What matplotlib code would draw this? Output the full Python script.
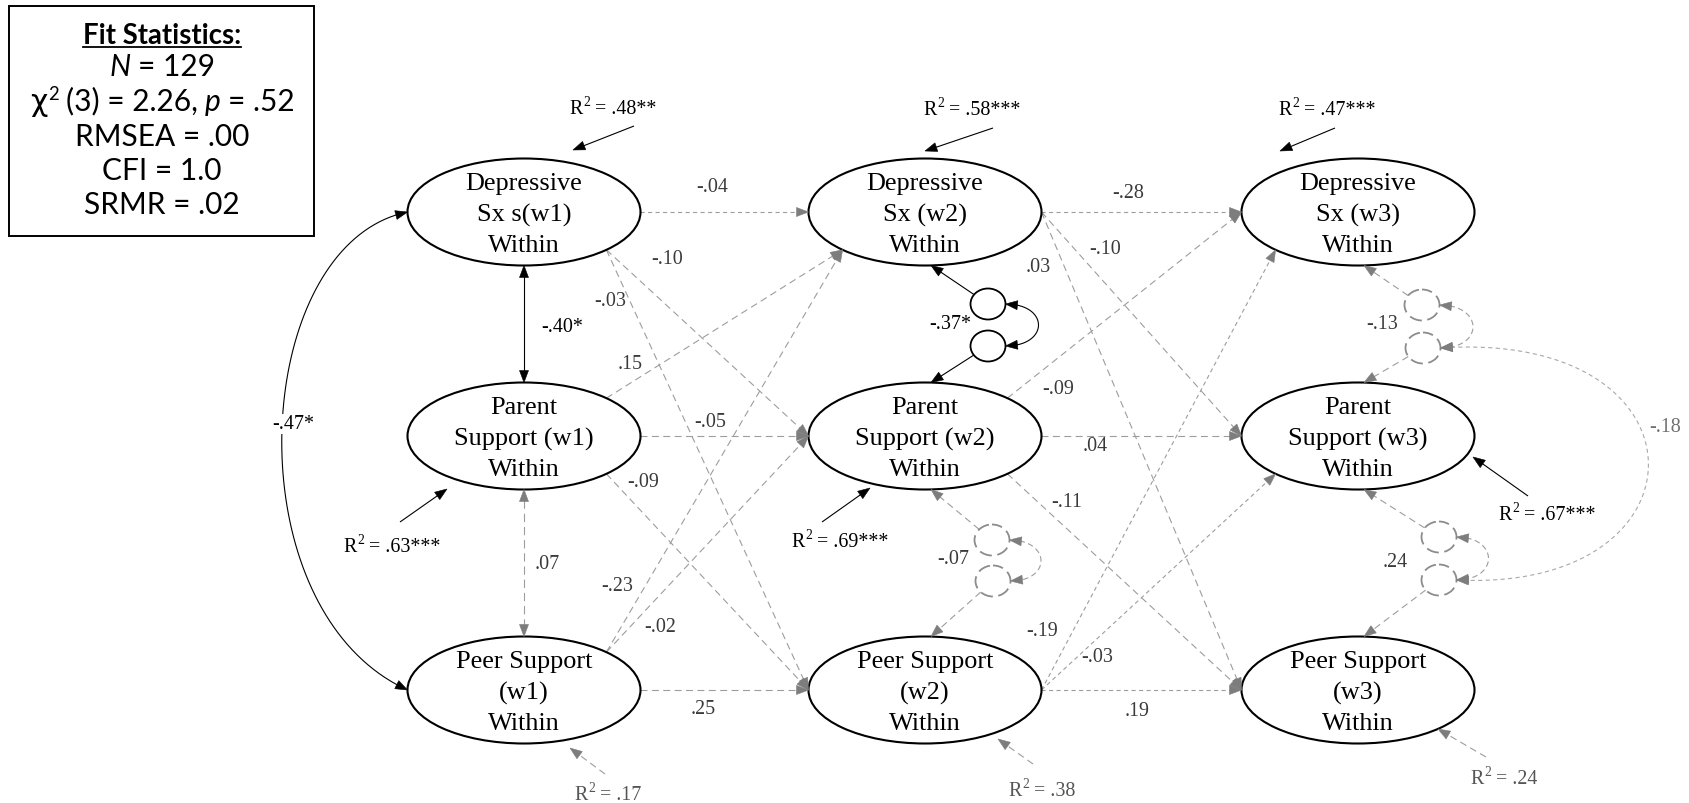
import numpy as np
import matplotlib
matplotlib.use("Agg")
import matplotlib.pyplot as plt
from matplotlib.patches import Ellipse, Polygon, Rectangle

plt.rcParams['lines.scale_dashes'] = False

# ------------------------------------------------------------------ data
node_ids = ['Dep1', 'Par1', 'Peer1', 'Dep2', 'Par2', 'Peer2', 'Dep3', 'Par3', 'Peer3']
node_labels = ['Depressive\nSx s(w1)\nWithin', 'Parent\nSupport (w1)\nWithin', 'Peer Support\n(w1)\nWithin',
               'Depressive\nSx (w2)\nWithin', 'Parent\nSupport (w2)\nWithin', 'Peer Support\n(w2)\nWithin',
               'Depressive\nSx (w3)\nWithin', 'Parent\nSupport (w3)\nWithin', 'Peer Support\n(w3)\nWithin']
r2_values = ['.48**', '.63***', '.17', '.58***', '.69***', '.38', '.47***', '.67***', '.24']
r2_sig = [True, True, False, True, True, False, True, True, False]

path_from = ['Dep1', 'Dep1', 'Dep1', 'Par1', 'Par1', 'Par1', 'Peer1', 'Peer1', 'Peer1',
             'Dep2', 'Dep2', 'Dep2', 'Par2', 'Par2', 'Par2', 'Peer2', 'Peer2', 'Peer2']
path_to = ['Dep2', 'Par2', 'Peer2', 'Dep2', 'Par2', 'Peer2', 'Dep2', 'Par2', 'Peer2',
           'Dep3', 'Par3', 'Peer3', 'Dep3', 'Par3', 'Peer3', 'Dep3', 'Par3', 'Peer3']
path_coef = ['-.04', '-.10', '-.03', '.15', '-.05', '-.09', '-.23', '-.02', '.25',
             '-.28', '-.10', '.03', '-.09', '.04', '-.11', '-.19', '-.03', '.19']
path_sig = [False] * 18

corr_a = ['Dep1', 'Par1', 'Dep1', 'Dep2', 'Par2', 'Dep3', 'Par3', 'Dep3']
corr_b = ['Par1', 'Peer1', 'Peer1', 'Par2', 'Peer2', 'Par3', 'Peer3', 'Peer3']
corr_coef = ['-.40*', '.07', '-.47*', '-.37*', '-.07', '-.13', '.24', '-.18']
corr_sig = [True, False, True, True, False, False, False, False]

fit_title = 'Fit Statistics:'
fit_n = '129'
fit_chi_df = '3'
fit_chi = '2.26'
fit_p = '.52'
fit_rmsea = '.00'
fit_cfi = '1.0'
fit_srmr = '.02'

# ------------------------------------------------------------------ layout
COL_X = {'1': 524, '2': 925, '3': 1358}
ROW_Y = {'Dep': 213, 'Par': 437, 'Peer': 691}
ELL_W, ELL_H = 233, 107
SERIF = 'Liberation Serif'
SANS = ['Lato', 'DejaVu Sans']
LINE_C = '#9d9d9d'
HEAD_C = '#7d7d7d'
LAB_C = '#3a3a3a'
FINE = (3.0, 2.4)
MED = (5.0, 3.2)


def center(n):
    return np.array([COL_X[n[-1]], ROW_Y[n[:-1]]], float)


ANG = {'E': 0, 'SE': 45, 'S': 90, 'SW': 135, 'W': 180, 'NW': 225, 'N': 270, 'NE': 315}


def anchor(n, a):
    c = center(n)
    t = np.deg2rad(ANG[a])
    return c + np.array([ELL_W / 2 * np.cos(t), ELL_H / 2 * np.sin(t)])


PATH_LAYOUT = [
    ('E', 'W', (712, 187), FINE), ('SE', 'W', (667, 260), MED), ('SE', 'W', (610, 302), MED),
    ('NE', 'SW', (630, 365), MED), ('E', 'W', (710, 423), MED), ('SE', 'W', (643, 483), MED),
    ('NE', 'SW', (617, 587), MED), ('NE', 'W', (660, 628), MED), ('E', 'W', (703, 710), MED),
    ('E', 'W', (1128, 193), FINE), ('E', 'W', (1105, 250), MED), ('E', 'W', (1038, 268), MED),
    ('NE', 'W', (1058, 390), MED), ('E', 'W', (1095, 447), MED), ('SE', 'W', (1067, 503), MED),
    ('E', 'SW', (1042, 632), FINE), ('E', 'SW', (1097, 658), FINE), ('E', 'W', (1137, 712), FINE),
]

R2_LAYOUT = {
    'Dep1': ((634, 127), (573, 151), (613, 107)),
    'Dep2': ((993, 129), (925, 152), (972, 108)),
    'Dep3': ((1335, 129), (1280, 152), (1327, 108)),
    'Par1': ((400, 523), (447, 490), (392, 545)),
    'Par2': ((822, 523), (870, 489), (840, 540)),
    'Par3': ((1528, 497), (1473, 458), (1547, 513)),
    'Peer1': ((605, 775), (570, 749), (608, 793)),
    'Peer2': ((1033, 765), (998, 740), (1042, 789)),
    'Peer3': ((1486, 758), (1438, 730), (1504, 777)),
}

RX, RY = 17.5, 15.5
CORR_LAYOUT = [
    dict(kind='line', label=(562, 328)),
    dict(kind='line', label=(547, 565)),
    dict(kind='curve', ctrl=[(250, 245), (230, 610)], label=(293, 425)),
    dict(kind='resid', c1=(988, 305), c2=(988, 347), bulge=33, label=(950, 325)),
    dict(kind='resid', c1=(992, 541), c2=(993, 582), bulge=31, label=(953, 560)),
    dict(kind='resid', c1=(1422, 306), c2=(1423, 349), bulge=33, label=(1382, 325)),
    dict(kind='resid', c1=(1439, 538), c2=(1439, 581), bulge=32, label=(1395, 563)),
    dict(kind='big', ends=((1423, 349), (1439, 581)), ctrl=[(1715, 330), (1715, 594)], label=(1665, 428)),
]

fig = plt.figure(figsize=(16.9, 8.04), dpi=100)
ax = fig.add_axes([0, 0, 1, 1])
ax.set_xlim(0, 1690)
ax.set_ylim(804, 0)
ax.axis('off')
fig.canvas.draw()
REND = fig.canvas.get_renderer()


def bezier(pts, n=160):
    p = np.asarray(pts, float)
    t = np.linspace(0, 1, n)[:, None]
    if len(p) == 2:
        return p[0] * (1 - t) + p[1] * t
    if len(p) == 3:
        return (1 - t) ** 2 * p[0] + 2 * (1 - t) * t * p[1] + t ** 2 * p[2]
    return ((1 - t) ** 3 * p[0] + 3 * (1 - t) ** 2 * t * p[1]
            + 3 * (1 - t) * t ** 2 * p[2] + t ** 3 * p[3])


def draw_head(tip, back, color, L=12, W=9):
    d = np.asarray(tip, float) - np.asarray(back, float)
    d /= np.linalg.norm(d)
    q = np.array([-d[1], d[0]])
    base = np.asarray(tip, float) - d * L
    ax.add_patch(Polygon([tip, base + q * W / 2, base - q * W / 2], closed=True,
                         fc=color, ec=color, lw=0.4, zorder=5))


def connector(pts, sig, dashes=MED, start_head=False, end_head=True, lw=0.8,
              lcol=None, hcol=None):
    cur = bezier(pts)
    seg = np.r_[0, np.cumsum(np.hypot(*np.diff(cur, axis=0).T))]
    total = seg[-1]
    L = 12
    lcol = lcol or ('black' if sig else LINE_C)
    hcol = hcol or ('black' if sig else HEAD_C)
    keep = np.ones(len(cur), bool)
    if end_head:
        keep &= seg <= total - L * 0.8
        back = cur[np.argmin(np.abs(seg - (total - L)))]
        draw_head(cur[-1], back, hcol, L)
    if start_head:
        keep &= seg >= L * 0.8
        back = cur[np.argmin(np.abs(seg - L))]
        draw_head(cur[0], back, hcol, L)
    c = cur[keep]
    if sig:
        ax.plot(c[:, 0], c[:, 1], color=lcol, lw=lw, solid_capstyle='butt', zorder=3)
    else:
        ax.plot(c[:, 0], c[:, 1], color=lcol, lw=lw, dashes=dashes, zorder=3)


def label(pos, text, sig, color=None, size=14.4, bg=False):
    col = color or ('black' if sig else LAB_C)
    kw = {}
    if bg:
        kw['bbox'] = dict(fc='white', ec='none', pad=0.5)
    ax.text(pos[0], pos[1], text, ha='center', va='center', fontsize=size,
            family=SERIF, color=col, zorder=6, **kw)


def rich(xc, yc, pieces, base_px, cap=0.66):
    """pieces: (text, text kwargs, rise_px, gap_after_px); centred on (xc, yc)."""
    arts, widths = [], []
    for s, kw, rise, gap in pieces:
        t = ax.text(0, 0, s, ha='left', va='baseline', zorder=6, **kw)
        arts.append(t)
        widths.append(t.get_window_extent(REND).width)
    total = sum(widths) + sum(p[3] for p in pieces[:-1])
    x = xc - total / 2
    base = yc + cap * base_px / 2
    for t, w, (s, kw, rise, gap) in zip(arts, widths, pieces):
        t.set_position((x, base - rise))
        x += w + gap
    return arts


# ---- nodes
for nid, lab in zip(node_ids, node_labels):
    c = center(nid)
    ax.add_patch(Ellipse(c, ELL_W, ELL_H, fc='white', ec='black', lw=1.5, zorder=4))
    ax.text(c[0], c[1] + 2, lab, ha='center', va='center', fontsize=18.9, family=SERIF,
            linespacing=1.5, zorder=7)

# ---- directed paths
for f, t, coef, sig, (sa, ta, lpos, dsh) in zip(path_from, path_to, path_coef, path_sig, PATH_LAYOUT):
    connector([anchor(f, sa), anchor(t, ta)], sig, dashes=dsh)
    label(lpos, coef, sig)

# ---- R2 disturbances
for nid, val, sig in zip(node_ids, r2_values, r2_sig):
    tail, tip, tpos = R2_LAYOUT[nid]
    connector([tail, tip], sig, dashes=MED)
    col = 'black' if sig else '#555555'
    big = dict(fontsize=14.4, family=SERIF, color=col)
    small = dict(fontsize=9.8, family=SERIF, color=col)
    rich(tpos[0], tpos[1], [('R', big, 0, 0.5), ('2', small, 7.5, 4.5), ('= ' + val, big, 0, 0)], 20)


# ---- correlations
def circle_edge(c, target):
    c = np.asarray(c, float)
    d = np.asarray(target, float) - c
    a = np.arctan2(d[1] / RY, d[0] / RX)
    return c + np.array([RX * np.cos(a), RY * np.sin(a)])


for a, b, coef, sig, lay in zip(corr_a, corr_b, corr_coef, corr_sig, CORR_LAYOUT):
    k = lay['kind']
    if k == 'line':
        connector([anchor(a, 'S'), anchor(b, 'N')], sig, dashes=(6, 3.5), start_head=True)
        label(lay['label'], coef, sig)
    elif k == 'curve':
        p0, p3 = anchor(a, 'W'), anchor(b, 'W')
        connector([p0, lay['ctrl'][0], lay['ctrl'][1], p3], sig, start_head=True)
        label(lay['label'], coef, sig, bg=True)
    elif k == 'resid':
        c1, c2 = np.array(lay['c1'], float), np.array(lay['c2'], float)
        for cc, node, anc in ((c1, a, 'S'), (c2, b, 'N')):
            if sig:
                ax.add_patch(Ellipse(cc, 2 * RX, 2 * RY, fc='white', ec='black', lw=1.3, zorder=4))
            else:
                ax.add_patch(Ellipse(cc, 2 * RX, 2 * RY, fc='white', ec='#8c8c8c', lw=1.3,
                                     ls=(1.5, (9.0, 4.0)), zorder=4))
            tgt = anchor(node, anc) + np.array([6, 0])
            connector([circle_edge(cc, tgt), tgt], sig, dashes=MED)
        e1 = c1 + np.array([RX, 0])
        e2 = c2 + np.array([RX, 0])
        k2 = 4.0 / 3.0 * lay['bulge']
        connector([e1, e1 + np.array([k2, 0]), e2 + np.array([k2, 0]), e2], sig,
                  dashes=(4, 2.5), start_head=True)
        label(lay['label'], coef, sig)
    elif k == 'big':
        e1 = np.array(lay['ends'][0], float) + np.array([RX, 0])
        e2 = np.array(lay['ends'][1], float) + np.array([RX, 0])
        connector([e1, lay['ctrl'][0], lay['ctrl'][1], e2], sig, dashes=FINE, start_head=True,
                  lcol='#a8a8a8')
        label(lay['label'], coef, sig, color='#707070')

# ---- fit statistics box
ax.add_patch(Rectangle((9, 7), 305, 230, fc='white', ec='black', lw=1.4, zorder=2))
FS = 21.5
reg = dict(fontsize=FS, family=SANS)
ita = dict(fontsize=FS, family=SANS, style='italic')
sup = dict(fontsize=FS * 0.62, family=SANS)
SP = 7
tt = rich(162, 33, [(fit_title, dict(fontsize=19.8, family=SANS, weight='bold'), 0, 0)], 30, cap=0.72)[0]
rich(162, 65, [('N', ita, 0, SP), ('= ' + fit_n, reg, 0, 0)], 30, cap=0.72)
rich(162, 100, [('χ', dict(fontsize=FS, family=['DejaVu Sans']), 0, 1), ('2', sup, 11, SP),
                ('(' + fit_chi_df + ') = ' + fit_chi + ',', reg, 0, SP), ('p', ita, 0, SP),
                ('= ' + fit_p, reg, 0, 0)], 30, cap=0.72)
rich(162, 135, [('RMSEA = ' + fit_rmsea, reg, 0, 0)], 30, cap=0.72)
rich(162, 169, [('CFI = ' + fit_cfi, reg, 0, 0)], 30, cap=0.72)
rich(162, 203, [('SRMR = ' + fit_srmr, reg, 0, 0)], 30, cap=0.72)

bb = tt.get_window_extent(REND)
inv = ax.transData.inverted()
(x0, y0), (x1, y1) = inv.transform([[bb.x0, bb.y0], [bb.x1, bb.y1]])
ax.plot([x0, x1], [max(y0, y1) - 1, max(y0, y1) - 1], color='black', lw=1.3, zorder=6)

fig.savefig('out.png', dpi=100)
